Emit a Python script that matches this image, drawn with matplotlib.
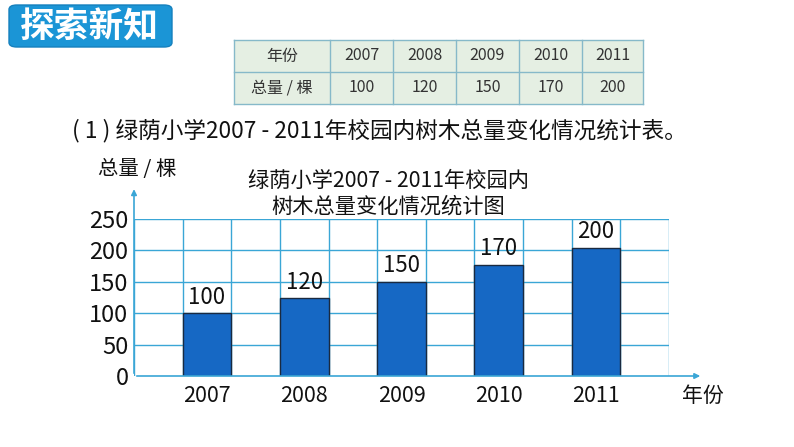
import matplotlib
matplotlib.use("Agg")
import matplotlib.pyplot as plt
from matplotlib.patches import FancyBboxPatch, Rectangle

plt.rcParams['font.family'] = ['Noto Sans CJK SC', 'DejaVu Sans']

# data
years = ['2007', '2008', '2009', '2010', '2011']
totals = [100, 120, 150, 170, 200]          # values written in table / labels
drawn_heights = [100, 124, 150, 177, 204]   # bar heights as drawn in the picture
y_ticks = [0, 50, 100, 150, 200, 250]
row_heads = ['年份', '总量 / 棵']

W, H = 794, 447
fig = plt.figure(figsize=(W / 100, H / 100), dpi=100)
fig.patch.set_facecolor('white')

def fx(px):
    return px / W

def fy(py):
    return 1 - py / H

GRID = '#3aa6d6'
BAR = '#1668c4'
INK = '#111111'

# badge "探索新知"
badge = FancyBboxPatch((fx(9), fy(47)), fx(163), 42 / H,
                       boxstyle='round,pad=0,rounding_size=0.01',
                       transform=fig.transFigure, facecolor='#1b95d6',
                       edgecolor='#1580bd', lw=1)
fig.patches.append(badge)
fig.text(fx(89), fy(27), '探索新知', color='white', fontsize=25,
         fontweight='bold', ha='center', va='center')

# table
col_edges = [234, 330, 393, 456, 519, 582, 643]
row_edges = [40, 72, 104]
fig.patches.append(Rectangle((fx(234), fy(104)), fx(643 - 234), 64 / H,
                             transform=fig.transFigure, facecolor='#e5efe3',
                             edgecolor='none'))
for x in col_edges:
    fig.add_artist(plt.Line2D([fx(x), fx(x)], [fy(40), fy(104)],
                              color='#86b9c9', lw=1))
for y in row_edges:
    fig.add_artist(plt.Line2D([fx(234), fx(643)], [fy(y), fy(y)],
                              color='#86b9c9', lw=1))
rows = [[row_heads[0]] + years, [row_heads[1]] + [str(v) for v in totals]]
for r, row in enumerate(rows):
    cy = (row_edges[r] + row_edges[r + 1]) / 2
    for c, txt in enumerate(row):
        cx = (col_edges[c] + col_edges[c + 1]) / 2
        fig.text(fx(cx), fy(cy), txt, fontsize=11.5, color='#333333',
                 ha='center', va='center')

# sentence
fig.text(fx(72), fy(131), '( 1 ) 绿荫小学2007 - 2011年校园内树木总量变化情况统计表。',
         fontsize=16.3, color=INK, ha='left', va='center')

# chart
ax = fig.add_axes([fx(134), fy(376), fx(669 - 134), (376 - 219) / H])
ax.set_xlim(0, 11)
ax.set_ylim(0, 250)
ax.set_facecolor('none')
for s in ax.spines.values():
    s.set_visible(False)
for x in range(0, 12):
    ax.axvline(x, color=GRID, lw=1, zorder=1)
for y in y_ticks[1:]:
    ax.axhline(y, color=GRID, lw=1, zorder=1)

xs = [1.5 + 2 * i for i in range(len(years))]
ax.bar(xs, drawn_heights, width=1, color=BAR, edgecolor='#1a2a40', lw=1, zorder=3)
for x, h, v, yr in zip(xs, drawn_heights, totals, years):
    ax.text(x, h + 7, str(v), fontsize=16, ha='center', va='bottom', color=INK)
    ax.text(x, -14, yr, fontsize=15.5, ha='center', va='top', color=INK)

ax.set_yticks(y_ticks)
ax.set_yticklabels([str(v) for v in y_ticks], fontsize=17, color=INK)
ax.tick_params(axis='y', length=0, pad=4)
ax.set_xticks([])

# axes with arrows
ax.annotate('', xy=(0, 302), xytext=(0, 0), annotation_clip=False,
            arrowprops=dict(arrowstyle='-|>', color=GRID, lw=1.2, mutation_scale=8))
ax.annotate('', xy=(11.7, 0), xytext=(0, 0), annotation_clip=False,
            arrowprops=dict(arrowstyle='-|>', color=GRID, lw=1.2, mutation_scale=8))

fig.text(fx(137), fy(170), '总量 / 棵', fontsize=14.7, ha='center', va='center', color=INK)
fig.text(fx(703), fy(396), '年份', fontsize=15, ha='center', va='center', color=INK)

fig.text(fx(388), fy(181), '绿荫小学2007 - 2011年校园内', fontsize=15.3,
         ha='center', va='center', color=INK)
fig.text(fx(388), fy(207), '树木总量变化情况统计图', fontsize=15.3,
         ha='center', va='center', color=INK)

fig.savefig('out.png', dpi=100)
